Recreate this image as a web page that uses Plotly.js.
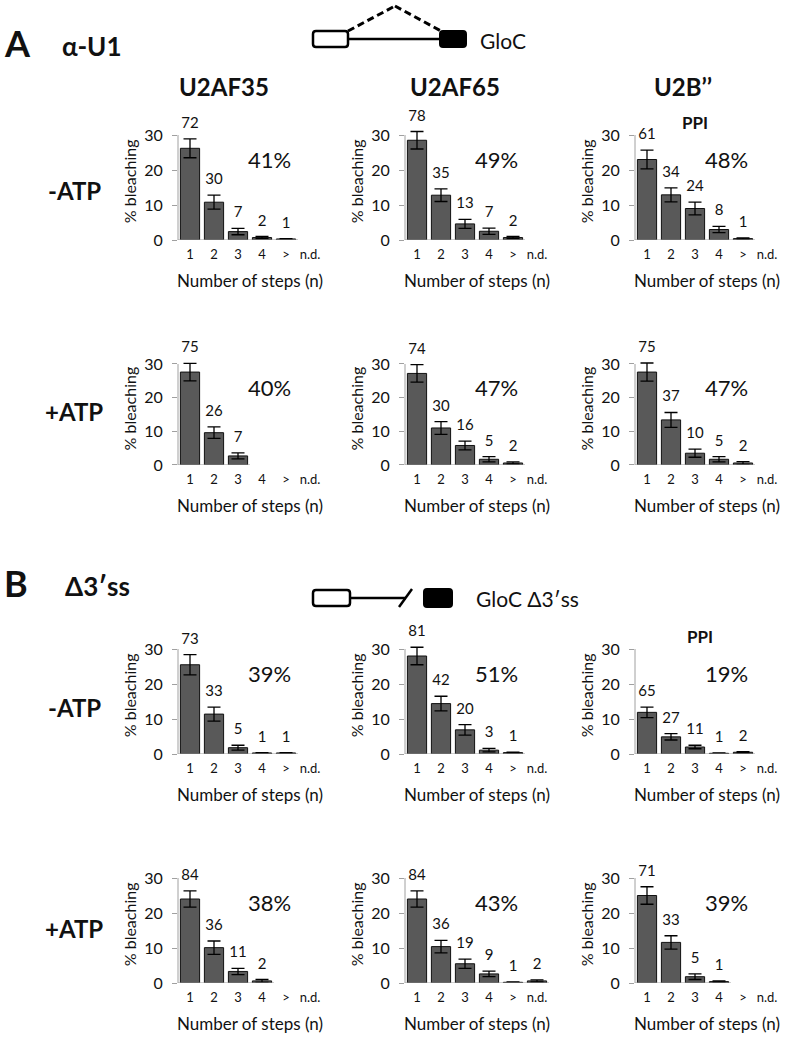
<!DOCTYPE html>
<html>
<head>
<meta charset="utf-8">
<script src="https://cdn.plot.ly/plotly-3.0.1.min.js"></script>
<style>
  html, body { margin: 0; padding: 0; background: #fff; }
  #chart { width: 791px; height: 1037px; }
</style>
</head>
<body>
<div id="chart"></div>
<script>
// categories on every x axis
const steps = ['1', '2', '3', '4', '>', 'n.d.'];
const proteins = ['U2AF35', 'U2AF65', 'U2B\u2019\u2019'];

// A (alpha-U1, GloC), -ATP : U2AF35, U2AF65, U2B''
const meanA_noATP = [[26.2, 10.8, 2.4, 0.7, 0.3], [28.5, 12.8, 4.6, 2.5, 0.7], [23.0, 12.9, 9.0, 3.0, 0.4]];
const errA_noATP  = [[2.7, 2.0, 0.9, 0.3, 0.1], [2.5, 1.8, 1.3, 0.9, 0.3], [2.7, 2.0, 1.8, 0.9, 0.2]];
const nA_noATP    = [[72, 30, 7, 2, 1], [78, 35, 13, 7, 2], [61, 34, 24, 8, 1]];
const pctA_noATP  = [41, 49, 48];

// A, +ATP
const meanA_ATP = [[27.6, 9.6, 2.7], [27.2, 11.0, 5.8, 1.7, 0.6], [27.6, 13.4, 3.5, 1.7, 0.6]];
const errA_ATP  = [[2.6, 1.7, 0.9], [2.6, 1.9, 1.3, 0.8, 0.3], [2.7, 2.2, 1.2, 0.8, 0.4]];
const nA_ATP    = [[75, 26, 7], [74, 30, 16, 5, 2], [75, 37, 10, 5, 2]];
const pctA_ATP  = [40, 47, 47];

// B (delta 3'ss), -ATP
const meanB_noATP = [[25.5, 11.4, 1.8, 0.3, 0.3], [28.0, 14.4, 6.9, 1.1, 0.4], [11.9, 4.9, 2.0, 0.2, 0.5]];
const errB_noATP  = [[2.9, 2.0, 0.7, 0.1, 0.1], [2.5, 2.1, 1.5, 0.5, 0.1], [1.5, 0.9, 0.5, 0.1, 0.2]];
const nB_noATP    = [[73, 33, 5, 1, 1], [81, 42, 20, 3, 1], [65, 27, 11, 1, 2]];
const pctB_noATP  = [39, 51, 19];

// B, +ATP
const meanB_ATP = [[24.0, 10.1, 3.3, 0.6], [24.0, 10.4, 5.5, 2.6, 0.2, 0.6], [25.0, 11.6, 1.8, 0.4]];
const errB_ATP  = [[2.3, 1.9, 0.9, 0.4], [2.3, 1.8, 1.3, 0.8, 0.1, 0.3], [2.5, 1.9, 0.8, 0.2]];
const nB_ATP    = [[84, 36, 11, 2], [84, 36, 19, 9, 1, 2], [71, 33, 5, 1]];
const pctB_ATP  = [38, 43, 39];

const rows = [
  {mean: meanA_noATP, err: errA_noATP, n: nA_noATP, pct: pctA_noATP, label: '-ATP'},
  {mean: meanA_ATP, err: errA_ATP, n: nA_ATP, pct: pctA_ATP, label: '+ATP'},
  {mean: meanB_noATP, err: errB_noATP, n: nB_noATP, pct: pctB_noATP, label: '-ATP'},
  {mean: meanB_ATP, err: errB_ATP, n: nB_ATP, pct: pctB_ATP, label: '+ATP'}
];

const W = 791, H = 1037;
const px = x => x / W;
const py = y => 1 - y / H;

// pixel layout of the panels (top = where 30 sits, bot = zero line)
const colLeft = [178, 405, 635];
const plotW = 144;
const rowTopBot = [[135, 240], [364, 465], [649, 754], [878, 983]];
const rowLabelY = [190, 412, 707, 928];
const yMax = 30, yHead = 3.5;   // axis drawn to 30, a little headroom for labels

const grey = '#a0a0a0';
const ink = '#111';

let traces = [];
let layout = {
  width: W, height: H,
  margin: {l: 0, r: 0, t: 0, b: 0},
  paper_bgcolor: '#fff', plot_bgcolor: 'rgba(0,0,0,0)',
  font: {family: 'Lato, sans-serif', color: ink},
  showlegend: false,
  annotations: [],
  shapes: []
};

rows.forEach((row, r) => {
  for (let c = 0; c < 3; c++) {
    const k = r * 3 + c + 1;
    const sfx = k === 1 ? '' : String(k);
    const vals = row.mean[c];
    const errs = row.err[c];
    const cats = steps.slice(0, vals.length);

    traces.push({
      type: 'bar',
      x: cats,
      y: vals,
      xaxis: 'x' + sfx, yaxis: 'y' + sfx,
      marker: {color: '#595959', line: {color: '#111', width: 1}},
      error_y: {type: 'data', array: errs, visible: true, color: '#000', thickness: 1.3, width: 6.5},
      cliponaxis: false,
      hoverinfo: 'skip'
    });

    // counts above the error bars
    traces.push({
      type: 'scatter', mode: 'markers+text',
      x: cats,
      y: vals.map((v, i) => v + errs[i]),
      text: row.n[c].map(String),
      textposition: 'top center',
      textfont: {size: 15, color: ink},
      marker: {size: 10, opacity: 0},
      xaxis: 'x' + sfx, yaxis: 'y' + sfx,
      cliponaxis: false,
      hoverinfo: 'skip'
    });

    const top = rowTopBot[r][0], bot = rowTopBot[r][1];
    const pxPerUnit = (bot - top) / yMax;
    layout['xaxis' + sfx] = {
      domain: [px(colLeft[c]), px(colLeft[c] + plotW)],
      anchor: 'y' + sfx,
      type: 'category', categoryorder: 'array', categoryarray: steps,
      range: [-0.5, 5.5],
      showline: false, showgrid: false, zeroline: false, ticks: '',
      tickfont: {size: 13}, ticklabelstandoff: 5,
      title: {text: 'Number of steps (n)', font: {size: 17}, standoff: 14},
      fixedrange: true
    };
    layout['yaxis' + sfx] = {
      domain: [py(bot), py(top - yHead * pxPerUnit)],
      anchor: 'x' + sfx,
      range: [0, yMax + yHead], tickvals: [0, 10, 20, 30],
      showline: false,
      ticks: 'outside', ticklen: 5, tickcolor: grey,
      showgrid: false, zeroline: false,
      tickfont: {size: 16}, ticklabelstandoff: 6,
      title: {text: '% bleaching', font: {size: 16}, standoff: 3},
      fixedrange: true
    };

    // grey y axis line up to 30 and baseline under the bars
    layout.shapes.push({
      type: 'line', xref: 'x' + sfx + ' domain', yref: 'y' + sfx,
      x0: 0, x1: 0, y0: 0, y1: yMax,
      line: {color: grey, width: 1}
    });
    layout.shapes.push({
      type: 'line', xref: 'x' + sfx, yref: 'y' + sfx,
      x0: -0.5, x1: vals.length - 0.5, y0: 0, y1: 0,
      line: {color: grey, width: 1}
    });

    // percentage of bleaching events
    layout.annotations.push({
      xref: 'x' + sfx, yref: 'y' + sfx, x: 3.3, y: 23,
      xanchor: 'center', yanchor: 'middle',
      text: row.pct[c] + '%', showarrow: false, font: {size: 22}
    });
  }
});

function txt(x, y, s, size) {
  layout.annotations.push({
    xref: 'paper', yref: 'paper', x: px(x), y: py(y),
    xanchor: 'center', yanchor: 'middle',
    text: s, showarrow: false, font: {size: size}
  });
}

rows.forEach((row, r) => txt(74, rowLabelY[r], '<b>' + row.label + '</b>', 24));

// headers
const headerCx = [224, 455, 683];
proteins.forEach((p, c) => txt(headerCx[c], 87, '<b>' + p + '</b>', 24));

txt(17, 43, '<b>A</b>', 36);
txt(92, 46, '<b>\u03b1-U1</b>', 26);
txt(16, 583, '<b>B</b>', 36);
txt(97, 586, '<b>\u03943\u2032ss</b>', 26);
txt(695, 122, '<b>PPI</b>', 17);
txt(700, 636, '<b>PPI</b>', 17);
txt(503, 41, 'GloC', 21);
txt(527, 598, 'GloC \u03943\u2032ss', 21);

// gene diagrams
function pt(x, y) { return px(x).toFixed(5) + ',' + py(y).toFixed(5); }
function rrect(x0, y0, x1, y1, r) {
  return 'M' + pt(x0 + r, y0) + ' L' + pt(x1 - r, y0) + ' Q' + pt(x1, y0) + ' ' + pt(x1, y0 + r) +
    ' L' + pt(x1, y1 - r) + ' Q' + pt(x1, y1) + ' ' + pt(x1 - r, y1) +
    ' L' + pt(x0 + r, y1) + ' Q' + pt(x0, y1) + ' ' + pt(x0, y1 - r) +
    ' L' + pt(x0, y0 + r) + ' Q' + pt(x0, y0) + ' ' + pt(x0 + r, y0) + ' Z';
}
function pline(x0, y0, x1, y1, dash) {
  layout.shapes.push({type: 'line', xref: 'paper', yref: 'paper',
    x0: px(x0), y0: py(y0), x1: px(x1), y1: py(y1),
    line: {color: '#000', width: dash ? 3 : 2.5, dash: dash || 'solid'}});
}
// A: GloC
pline(348, 39, 440, 39);
pline(348, 31, 395, 6, '7px,4px');
pline(395, 6, 441, 31, '7px,4px');
layout.shapes.push({type: 'path', xref: 'paper', yref: 'paper', path: rrect(313, 31, 348, 47, 3),
  fillcolor: '#fff', line: {color: '#000', width: 2.5}});
layout.shapes.push({type: 'path', xref: 'paper', yref: 'paper', path: rrect(440, 31, 466, 47, 3),
  fillcolor: '#000', line: {color: '#000', width: 2}});
// B: GloC delta 3'ss
pline(350, 598, 406, 598);
pline(399, 607, 412, 589);
layout.shapes.push({type: 'path', xref: 'paper', yref: 'paper', path: rrect(313, 590, 350, 606, 3),
  fillcolor: '#fff', line: {color: '#000', width: 2.5}});
layout.shapes.push({type: 'path', xref: 'paper', yref: 'paper', path: rrect(424, 589, 452, 607, 3),
  fillcolor: '#000', line: {color: '#000', width: 2}});

Plotly.newPlot('chart', traces, layout, {staticPlot: true});
</script>
</body>
</html>
